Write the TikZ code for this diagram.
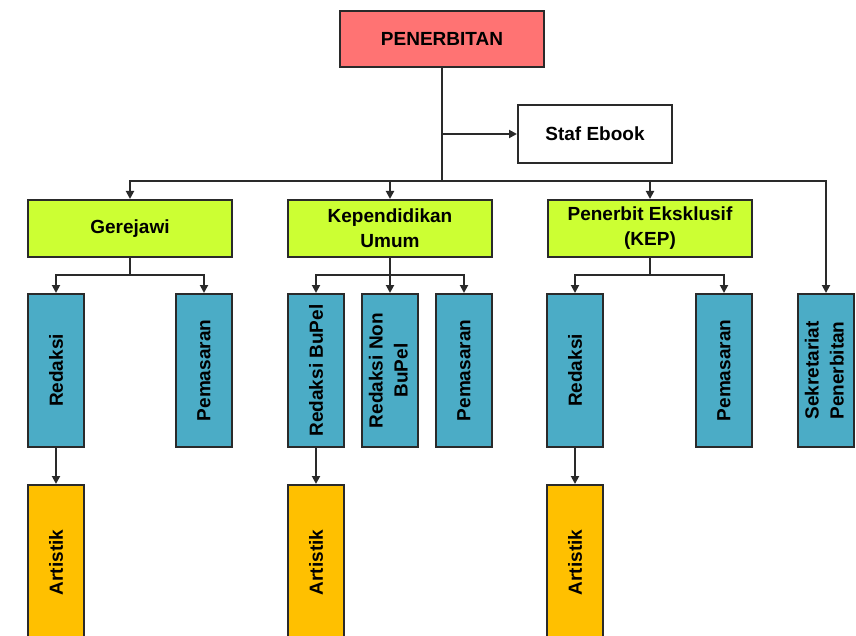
\documentclass[tikz,border=0pt]{standalone}
\usepackage{fontspec}
\setmainfont{Liberation Sans}
\usetikzlibrary{arrows.meta}
\definecolor{headred}{HTML}{FF7373}
\definecolor{unitgreen}{HTML}{CCFF33}
\definecolor{deptblue}{HTML}{4BACC6}
\definecolor{artgold}{HTML}{FFC000}
\definecolor{linegray}{HTML}{2A2A2A}
\begin{document}
\begin{tikzpicture}[x=1pt,y=-1pt,
  every node/.style={font=\fontsize{19}{25}\selectfont\bfseries, text=black},
  box/.style={draw=linegray, line width=2pt, inner sep=0pt, align=center},
  headbox/.style={box, fill=headred, minimum width=204pt, minimum height=56pt},
  plainbox/.style={box, fill=white, minimum width=154pt, minimum height=58pt},
  unitbox/.style={box, fill=unitgreen, minimum width=204pt, minimum height=57pt},
  deptbox/.style={box, fill=deptblue, minimum width=56pt, minimum height=153pt},
  artbox/.style={box, fill=artgold, minimum width=56pt, minimum height=155pt},
  link/.style={draw=linegray, line width=1.9pt},
  arr/.style={link, -{Triangle[length=8pt,width=8pt]}}
]
\useasboundingbox (0,0) rectangle (856,636);
\clip (0,0) rectangle (856,636);

% top level
\node[headbox] (pen) at (442,39) {PENERBITAN};
\node[plainbox] (staf) at (595,134) {Staf Ebook};

% units
\node[unitbox] (ger) at (130,228.5) {Gerejawi};
\node[unitbox] (kep) at (390,228.5) {Kependidikan\\Umum};
\node[unitbox] (eks) at (650,228.5) {Penerbit Eksklusif\\(KEP)};

% departments
\node[deptbox] (gred) at (56,370.5) {\rotatebox{90}{Redaksi}};
\node[deptbox] (gpem) at (204,370.5) {\rotatebox{90}{Pemasaran}};
\node[deptbox] (kbup) at (316,370.5) {\rotatebox{90}{Redaksi BuPel}};
\node[deptbox] (knon) at (390,370.5) {\rotatebox{90}{\begin{tabular}{@{}c@{}}Redaksi Non\\BuPel\end{tabular}}};
\node[deptbox] (kpem) at (464,370.5) {\rotatebox{90}{Pemasaran}};
\node[deptbox] (ered) at (575,370.5) {\rotatebox{90}{Redaksi}};
\node[deptbox] (epem) at (724,370.5) {\rotatebox{90}{Pemasaran}};
\node[deptbox] (sek) at (826,370.5) {\rotatebox{90}{\begin{tabular}{@{}c@{}}Sekretariat\\Penerbitan\end{tabular}}};

% artistic teams
\node[artbox] (gart) at (56,562.5) {\rotatebox{90}{Artistik}};
\node[artbox] (kart) at (316,562.5) {\rotatebox{90}{Artistik}};
\node[artbox] (eart) at (575,562.5) {\rotatebox{90}{Artistik}};

% trunk and main bus
\coordinate (bus) at (442,181);
\draw[link] (pen.south) -- (bus);
\draw[arr] (pen.south |- staf.west) -- (staf.west);
\draw[arr] (bus) -| (ger.north);
\draw[arr] (bus) -| (kep.north);
\draw[arr] (bus) -| (eks.north);
\draw[arr] (bus) -| (sek.north);

% unit branches
\coordinate (gsplit) at (130,275);
\draw[link] (ger.south) -- (gsplit);
\draw[arr] (gsplit) -| (gred.north);
\draw[arr] (gsplit) -| (gpem.north);

\coordinate (ksplit) at (390,275);
\draw[arr] (kep.south) -- (knon.north);
\draw[arr] (ksplit) -| (kbup.north);
\draw[arr] (ksplit) -| (kpem.north);

\coordinate (esplit) at (650,275);
\draw[link] (eks.south) -- (esplit);
\draw[arr] (esplit) -| (ered.north);
\draw[arr] (esplit) -| (epem.north);

% editorial to artistic
\draw[arr] (gred.south) -- (gart.north);
\draw[arr] (kbup.south) -- (kart.north);
\draw[arr] (ered.south) -- (eart.north);
\end{tikzpicture}
\end{document}
